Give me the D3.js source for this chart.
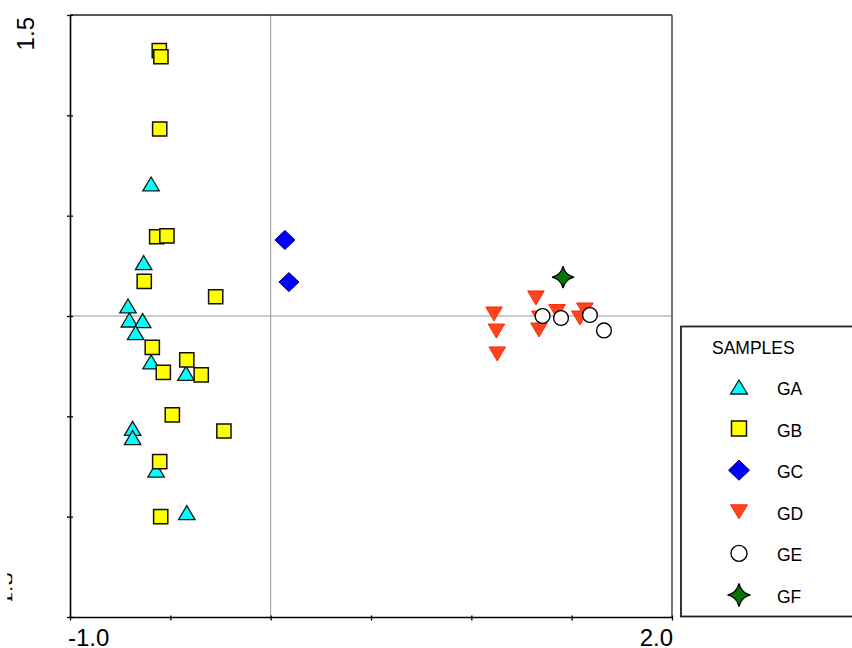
<!DOCTYPE html>
<html>
<head>
<meta charset="utf-8">
<script src="https://cdn.jsdelivr.net/npm/d3@7"></script>
<style>
  html, body { margin: 0; padding: 0; background: #fff; }
  svg { display: block; font-family: "Liberation Sans", Arial, sans-serif; }
</style>
</head>
<body>
<svg id="chart" width="852" height="648"></svg>
<script>
// ---------------- DATA ----------------
const categories = ["GA", "GB", "GC", "GD", "GE", "GF"];
const legendTitle = "SAMPLES";

const seriesGA = [
  [-0.596, 0.658], [-0.633, 0.266], [-0.711, 0.050], [-0.704, -0.020],
  [-0.638, -0.023], [-0.673, -0.083], [-0.596, -0.229], [-0.422, -0.286],
  [-0.688, -0.560], [-0.688, -0.606], [-0.571, -0.768], [-0.418, -0.980]
];
const seriesGB = [
  [-0.555, 1.322], [-0.547, 1.292], [-0.553, 0.932], [-0.568, 0.395],
  [-0.517, 0.399], [-0.630, 0.173], [-0.274, 0.096], [-0.590, -0.156],
  [-0.535, -0.281], [-0.418, -0.219], [-0.346, -0.293], [-0.490, -0.493],
  [-0.233, -0.573], [-0.553, -0.726], [-0.548, -1.000]
];
const seriesGC = [[0.071, 0.379], [0.091, 0.169]];
const seriesGD = [
  [1.113, 0.010], [1.125, -0.075], [1.129, -0.189], [1.322, 0.090],
  [1.342, -0.010], [1.337, -0.070], [1.427, 0.022], [1.541, -0.010],
  [1.566, 0.030]
];
const seriesGE = [[1.355, 0.000], [1.447, -0.010], [1.591, 0.005], [1.661, -0.072]];
const seriesGF = [[1.457, 0.194]];

const xDomain = [-1, 2];
const yDomain = [-1.5, 1.5];
const tickValues = [-1.5, -1.0, -0.5, 0, 0.5, 1.0, 1.5, 2.0];
const xTickLabels = ["-1.0", "2.0"];
const yTickLabels = ["1.5", "-1.5"];

// ---------------- SETUP ----------------
const svg = d3.select("#chart");
const L = 70, R = 672, T = 15, B = 617;
const x = d3.scaleLinear().domain(xDomain).range([L, R]);
const y = d3.scaleLinear().domain(yDomain).range([B, T]);

// symbol paths
const triUp = (w, h) => `M0,${-h/2}L${w/2},${h/2}L${-w/2},${h/2}Z`;
const triDown = (w, h) => `M0,${h/2}L${w/2},${-h/2}L${-w/2},${-h/2}Z`;
const square = s => `M${-s/2},${-s/2}h${s}v${s}h${-s}Z`;
const diamond = (w, h) => `M0,${-h/2}L${w/2},0L0,${h/2}L${-w/2},0Z`;
const circle = r => `M${r},0A${r},${r} 0 1,1 ${-r},0A${r},${r} 0 1,1 ${r},0Z`;
const star = (Ro, k) =>
  `M0,${-Ro}Q${k},${-k} ${Ro},0Q${k},${k} 0,${Ro}Q${-k},${k} ${-Ro},0Q${-k},${-k} 0,${-Ro}Z`;

const styles = {
  GA: { d: triUp(16.5, 14), fill: "#00ffff", stroke: "#1a1a1a", sw: 1.3 },
  GB: { d: square(14.2), fill: "#ffff00", stroke: "#111", sw: 1.5 },
  GC: { d: diamond(20, 19), fill: "#0000ff", stroke: "#000066", sw: 1 },
  GD: { d: triDown(16.5, 14), fill: "#ff4422", stroke: "#ff2a00", sw: 1 },
  GE: { d: circle(7.4), fill: "#ffffff", stroke: "#000", sw: 1.4 },
  GF: { d: star(11, 2), fill: "#007700", stroke: "#000", sw: 1.2 }
};
const seriesData = { GA: seriesGA, GB: seriesGB, GC: seriesGC, GD: seriesGD, GE: seriesGE, GF: seriesGF };

// ---------------- FRAME ----------------
svg.append("line").attr("x1", x(0)).attr("x2", x(0)).attr("y1", T).attr("y2", B)
  .attr("stroke", "#999").attr("stroke-width", 1);
svg.append("line").attr("x1", L).attr("x2", R).attr("y1", y(0)).attr("y2", y(0))
  .attr("stroke", "#999").attr("stroke-width", 1);

svg.append("line").attr("x1", L).attr("x2", R).attr("y1", T).attr("y2", T)
  .attr("stroke", "#222").attr("stroke-width", 1.3);
svg.append("line").attr("x1", R).attr("x2", R).attr("y1", T).attr("y2", B)
  .attr("stroke", "#555").attr("stroke-width", 1.6);

const xAxis = d3.axisBottom(x).tickValues(tickValues.filter(v => v >= xDomain[0] && v <= xDomain[1]))
  .tickSize(4).tickSizeOuter(0).tickFormat("");
const gx = svg.append("g").attr("transform", `translate(0,${B})`).call(xAxis);
gx.select(".domain").attr("stroke", "#000").attr("stroke-width", 1.6);
gx.selectAll(".tick line").attr("y1", -1.5).attr("y2", 3.5).attr("stroke", "#000").attr("stroke-width", 1.3);

const yAxis = d3.axisLeft(y).tickValues(tickValues.filter(v => v >= yDomain[0] && v <= yDomain[1]))
  .tickSize(3).tickSizeOuter(0).tickFormat("");
const gy = svg.append("g").attr("transform", `translate(${L},0)`).call(yAxis);
gy.select(".domain").attr("stroke", "#000").attr("stroke-width", 1.6);
gy.selectAll(".tick line").attr("x1", 3).attr("x2", -3).attr("stroke", "#000").attr("stroke-width", 1.3);

svg.append("text").attr("x", x(-1) - 2).attr("y", 646).attr("text-anchor", "start")
  .attr("font-size", 24).attr("fill", "#000").text(xTickLabels[0]);
svg.append("text").attr("x", x(2) + 1).attr("y", 646).attr("text-anchor", "end")
  .attr("font-size", 24).attr("fill", "#000").text(xTickLabels[1]);

svg.append("text").attr("transform", `translate(34,${y(1.5) + 2}) rotate(-90)`)
  .attr("text-anchor", "end").attr("font-size", 24).attr("fill", "#000").text(yTickLabels[0]);

// clipped bottom-left label (only a sliver visible in reference)
const defs = svg.append("defs");
defs.append("clipPath").attr("id", "lblclip").append("rect")
  .attr("x", 7.3).attr("y", 550).attr("width", 5).attr("height", 51);
svg.append("g").attr("clip-path", "url(#lblclip)")
  .append("text").attr("transform", `translate(12.8,${y(-1.5) - 3.5}) rotate(-90)`)
  .attr("text-anchor", "start").attr("font-size", 24).attr("fill", "#000").text(yTickLabels[1]);

// ---------------- POINTS ----------------
categories.forEach(cat => {
  const st = styles[cat];
  svg.append("g").attr("class", "series-" + cat)
    .selectAll("path").data(seriesData[cat]).join("path")
    .attr("transform", d => `translate(${x(d[0])},${y(d[1])})`)
    .attr("d", st.d).attr("fill", st.fill).attr("stroke", st.stroke)
    .attr("stroke-width", st.sw).attr("stroke-linejoin", "miter");
});

// ---------------- LEGEND ----------------
const lg = svg.append("g");
lg.append("rect").attr("x", 681).attr("y", 326.5).attr("width", 200).attr("height", 290)
  .attr("fill", "#fff").attr("stroke", "#222").attr("stroke-width", 1.8);
lg.append("text").attr("x", 712).attr("y", 354).attr("font-size", 17.5).attr("fill", "#000").text(legendTitle);
const legendStyles = {
  GA: triUp(17, 14), GB: square(15), GC: diamond(21, 20), GD: triDown(17, 14), GE: circle(8), GF: star(11.5, 2.1)
};
categories.forEach((cat, i) => {
  const cy = 387 + i * 41.6;
  const st = styles[cat];
  lg.append("path").attr("transform", `translate(739,${cy})`).attr("d", legendStyles[cat])
    .attr("fill", st.fill).attr("stroke", st.stroke).attr("stroke-width", st.sw);
  lg.append("text").attr("x", 777).attr("y", cy + 8).attr("font-size", 17.5).attr("fill", "#000").text(cat);
});
</script>
</body>
</html>
